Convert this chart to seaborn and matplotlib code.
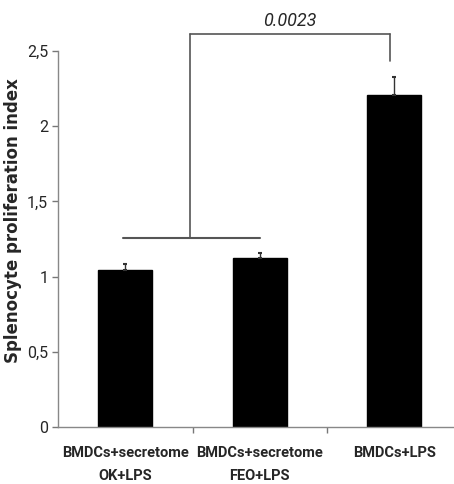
import matplotlib
matplotlib.use("Agg")
import matplotlib.pyplot as plt
import seaborn as sns
import pandas as pd

categories = ["BMDCs+secretome\nOK+LPS", "BMDCs+secretome\nFEO+LPS", "BMDCs+LPS"]
values = [1.044, 1.126, 2.21]
errors = [0.042, 0.031, 0.12]
yticks = [0, 0.5, 1, 1.5, 2, 2.5]
ytick_labels = ["0", "0,5", "1", "1,5", "2", "2,5"]
pvalue_text = "0.0023"

sns.set_theme(style="white")
plt.rcParams["font.family"] = ["Roboto", "DejaVu Sans"]

df = pd.DataFrame({"cat": categories, "val": values})

fig = plt.figure(figsize=(4.54, 4.84), dpi=100)
ax = fig.add_axes([58/454, 1 - 427/484, 1 - 58/454, (427 - 51)/484])

sns.barplot(data=df, x="cat", y="val", color="black", width=0.4, ax=ax,
            errorbar=None, saturation=1, edgecolor="black")
ax.errorbar(range(len(values)), values, yerr=[[0]*len(errors), errors],
            fmt="none", ecolor="#333333", elinewidth=1, capsize=1.5, capthick=1.5)

ax.set_xlim(-0.5, -0.5 + 396/134.5)
ax.set_ylim(0, 2.5)
ax.set_yticks(yticks)
ax.set_yticklabels(ytick_labels, fontsize=11.5)
ax.set_xticks(range(len(categories)))
ax.set_xticklabels(categories, fontsize=10.5, fontweight="bold", linespacing=1.75)
ax.set_xticks([0.5, 1.5], minor=True)
ax.tick_params(axis="x", which="major", length=0, pad=14)
ax.tick_params(axis="x", which="minor", length=4, width=1, color="#777777", direction="out", bottom=True)
ax.tick_params(axis="y", length=4, width=1, color="#777777", direction="out", left=True, pad=3)
ax.set_xlabel("")
ax.set_ylabel("Splenocyte proliferation index", fontsize=12, fontweight="bold",
              fontfamily="DejaVu Sans")
ax.yaxis.set_label_coords(-0.092, 0.55)

for s in ["top", "right"]:
    ax.spines[s].set_visible(False)
for s in ["left", "bottom"]:
    ax.spines[s].set_color("#888888")
    ax.spines[s].set_linewidth(1)

# significance bracket
lc = "#555555"
ax.plot([-0.02, 1.0], [1.259, 1.259], color=lc, lw=1.5, clip_on=False)
ax.plot([0.48, 0.48], [1.259, 2.61], color=lc, lw=1.2, clip_on=False)
ax.plot([0.48, 1.97], [2.61, 2.61], color=lc, lw=1.2, clip_on=False)
ax.plot([1.97, 1.97], [2.61, 2.435], color=lc, lw=1.2, clip_on=False)
ax.text(1.22, 2.64, pvalue_text, ha="center", va="bottom", fontsize=13,
        fontstyle="italic", clip_on=False)

fig.savefig("out.png", dpi=100)
